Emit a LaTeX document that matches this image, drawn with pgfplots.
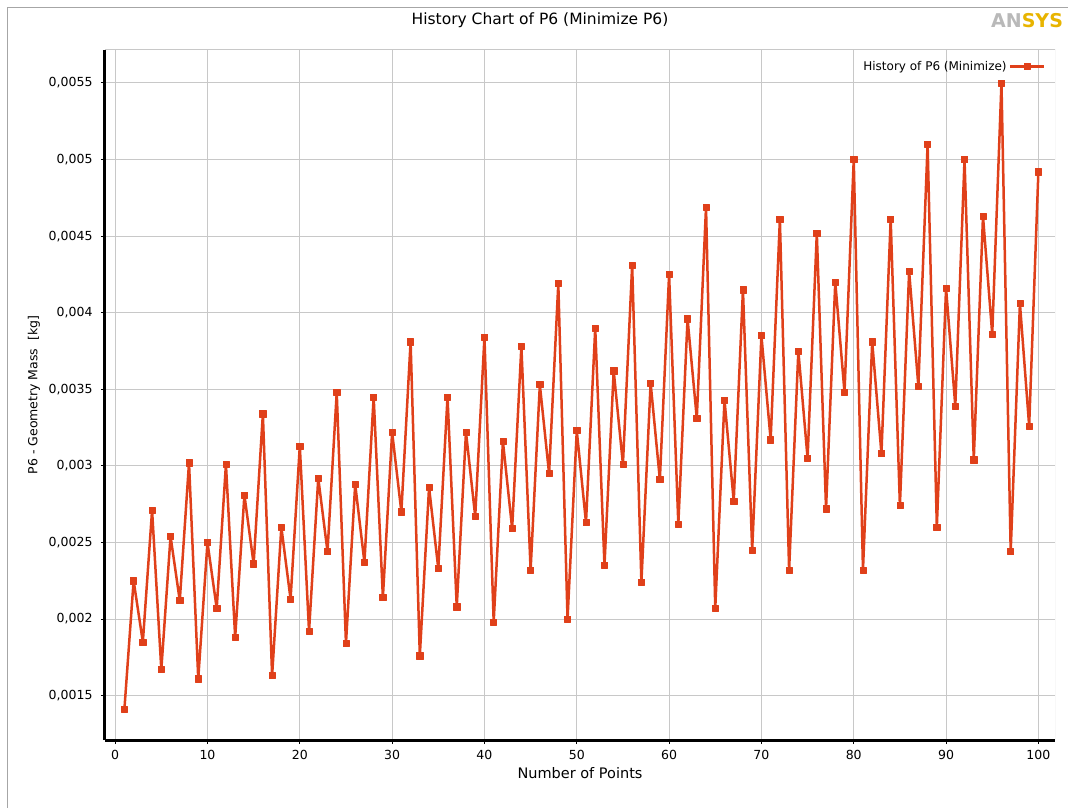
\documentclass[border=0pt]{standalone}
\usepackage{pgfplots}
\pgfplotsset{compat=1.18}
\usepackage{fontspec}
\setmainfont{DejaVu Sans}
\definecolor{histred}{HTML}{E0401A}
\definecolor{gridgray}{HTML}{C8C8C8}
\definecolor{logogold}{HTML}{E8B400}

\begin{document}
\begin{tikzpicture}
\useasboundingbox (-105pt,-67pt) rectangle (963pt,740pt);
% outer frame
\draw[gray!70, line width=1pt] (-97pt,-80pt) -- (-97pt,732pt) -- (980pt,732pt);
\node[font=\fontsize{15.5}{17}\selectfont] at (435pt,720pt) {History Chart of P6 (Minimize P6)};
\node[anchor=west, inner sep=0pt, font=\fontsize{19}{19}\selectfont\bfseries] at (886pt,719pt)
  {\textcolor{gray!55}{AN}\textcolor{logogold}{SYS}};
\begin{axis}[
  at={(0pt,0pt)}, anchor=south west,
  scale only axis, width=950pt, height=690pt,
  xmin=-1.1, xmax=101.8, ymin=0.00121, ymax=0.005715,
  axis x line*=bottom, axis y line*=left,
  axis line style={-, black, line width=3pt},
  xtick={0,10,...,100},
  ytick={0.0015,0.002,0.0025,0.003,0.0035,0.004,0.0045,0.005,0.0055},
  scaled y ticks=false,
  /pgf/number format/.cd, fixed, use comma, precision=4, assume math mode=true,
  /pgfplots/.cd,
  tick align=outside, major tick length=4pt,
  tick style={black, line width=1pt},
  grid=major, grid style={gridgray, line width=1pt},
  ticklabel style={font=\fontsize{12.5}{14}\selectfont},
  xticklabel style={yshift=-3pt},
  yticklabel style={xshift=-5pt},
  xlabel={Number of Points},
  ylabel={P6 - Geometry Mass~~[kg]},
  xlabel style={font=\fontsize{14.5}{16}\selectfont, yshift=-1pt},
  ylabel style={font=\fontsize{12.5}{14}\selectfont, yshift=2pt},
  legend style={draw=none, fill=none, at={(0.993,0.99)}, anchor=north east,
    font=\fontsize{12}{14}\selectfont},
  legend cell align=right, legend plot pos=right,
  legend image code/.code={\draw[mark repeat=2,mark phase=2,#1]
    plot coordinates {(0pt,0pt) (17pt,0pt) (34pt,0pt)};},
]
\draw[gridgray, line width=1pt] (rel axis cs:0,1) -- (rel axis cs:1,1) -- (rel axis cs:1,0);
\addplot[histred, line width=2.5pt, line join=round, mark=square*, mark size=3.1pt,
  mark options={solid, line width=0.6pt}]
coordinates {
(1,0.00141) (2,0.00225) (3,0.00185) (4,0.00271) (5,0.00167)
(6,0.00254) (7,0.00212) (8,0.00302) (9,0.00161) (10,0.00250)
(11,0.00207) (12,0.00301) (13,0.00188) (14,0.00281) (15,0.00236)
(16,0.00334) (17,0.00163) (18,0.00260) (19,0.00213) (20,0.00313)
(21,0.00192) (22,0.00292) (23,0.00244) (24,0.00348) (25,0.00184)
(26,0.00288) (27,0.00237) (28,0.00345) (29,0.00214) (30,0.00322)
(31,0.00270) (32,0.00381) (33,0.00176) (34,0.00286) (35,0.00233)
(36,0.00345) (37,0.00208) (38,0.00322) (39,0.00267) (40,0.00384)
(41,0.00198) (42,0.00316) (43,0.00259) (44,0.00378) (45,0.00232)
(46,0.00353) (47,0.00295) (48,0.00419) (49,0.00200) (50,0.00323)
(51,0.00263) (52,0.00390) (53,0.00235) (54,0.00362) (55,0.00301)
(56,0.00431) (57,0.00224) (58,0.00354) (59,0.00291) (60,0.00425)
(61,0.00262) (62,0.00396) (63,0.00331) (64,0.00469) (65,0.00207)
(66,0.00343) (67,0.00277) (68,0.00415) (69,0.00245) (70,0.00385)
(71,0.00317) (72,0.00461) (73,0.00232) (74,0.00375) (75,0.00305)
(76,0.00452) (77,0.00272) (78,0.00420) (79,0.00348) (80,0.00500)
(81,0.00232) (82,0.00381) (83,0.00308) (84,0.00461) (85,0.00274)
(86,0.00427) (87,0.00352) (88,0.00510) (89,0.00260) (90,0.00416)
(91,0.00339) (92,0.00500) (93,0.00304) (94,0.00463) (95,0.00386)
(96,0.00550) (97,0.00244) (98,0.00406) (99,0.00326) (100,0.00492)
};
\addlegendentry{History of P6 (Minimize)}
\end{axis}
\end{tikzpicture}
\end{document}
